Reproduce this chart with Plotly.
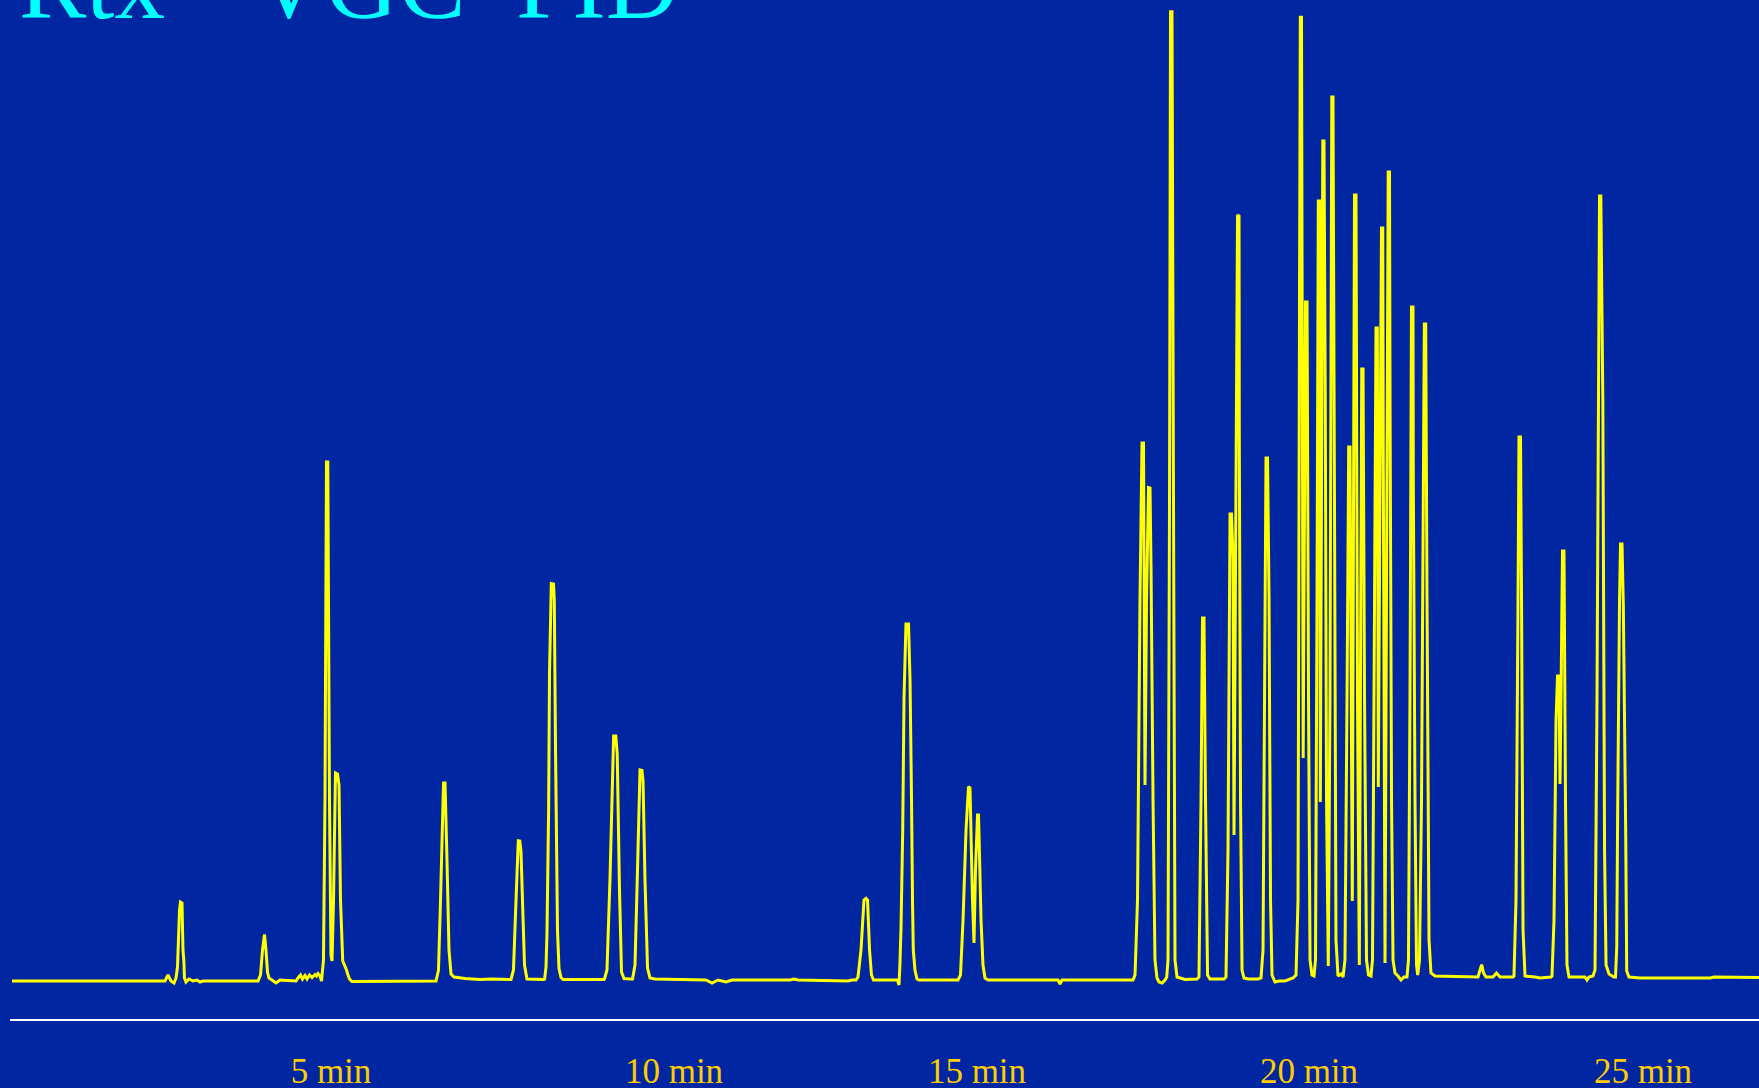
import plotly.graph_objects as go

# FID chromatogram on an Rtx-VGC column: polyline vertices (retention time, detector signal)
retention_time_min = [
    0.031, 2.377, 2.423, 2.469, 2.515, 2.546, 2.569, 2.600, 2.615, 2.638, 2.653, 2.666, 2.676, 2.699,
    2.745, 2.807, 2.868, 2.914, 2.960, 3.804, 3.842, 3.873, 3.903, 3.926, 3.949, 3.972, 4.018, 4.080,
    4.141, 4.264, 4.387, 4.417, 4.456, 4.486, 4.525, 4.555, 4.594, 4.632, 4.678, 4.701, 4.724, 4.755,
    4.778, 4.808, 4.831, 4.854, 4.874, 4.900, 4.923, 4.939, 4.962, 4.992, 5.023, 5.046, 5.069, 5.103,
    5.153, 5.184, 5.207, 5.245, 6.534, 6.572, 6.603, 6.649, 6.672, 6.702, 6.733, 6.764, 6.810, 6.979,
    7.209, 7.393, 7.669, 7.684, 7.722, 7.761, 7.796, 7.819, 7.837, 7.860, 7.891, 7.929, 8.190, 8.198,
    8.221, 8.236, 8.261, 8.275, 8.302, 8.336, 8.348, 8.367, 8.397, 8.420, 8.451, 8.482, 9.110, 9.118,
    9.156, 9.202, 9.258, 9.291, 9.313, 9.348, 9.379, 9.417, 9.509, 9.548, 9.586, 9.632, 9.663, 9.693,
    9.709, 9.739, 9.778, 9.816, 9.893, 10.675, 10.767, 10.859, 10.982, 11.074, 11.963, 12.025, 12.086,
    12.853, 12.914, 12.975, 13.006, 13.052, 13.098, 13.129, 13.152, 13.183, 13.213, 13.244, 13.604,
    13.612, 13.635, 13.650, 13.666, 13.692, 13.712, 13.742, 13.781, 13.804, 13.827, 13.842, 13.854,
    13.880, 13.911, 13.942, 14.540, 14.578, 14.617, 14.663, 14.701, 14.724, 14.762, 14.785, 14.808,
    14.839, 14.854, 14.866, 14.893, 14.923, 14.954, 15.000, 16.074, 16.104, 16.135, 17.224, 17.255,
    17.293, 17.331, 17.362, 17.385, 17.408, 17.431, 17.462, 17.485, 17.500, 17.531, 17.561, 17.592,
    17.623, 17.669, 17.715, 17.741, 17.761, 17.784, 17.799, 17.822, 17.845, 17.868, 17.899, 18.021,
    18.206, 18.236, 18.267, 18.290, 18.313, 18.336, 18.367, 18.405, 18.620, 18.650, 18.681, 18.712,
    18.735, 18.758, 18.773, 18.827, 18.850, 18.854, 18.873, 18.896, 18.926, 18.988, 19.141, 19.187,
    19.218, 19.241, 19.264, 19.287, 19.310, 19.333, 19.356, 19.402, 19.463, 19.555, 19.678, 19.724,
    19.755, 19.778, 19.790, 19.808, 19.821, 19.834, 19.870, 19.893, 19.916, 19.939, 19.969, 20.000,
    20.023, 20.046, 20.066, 20.084, 20.097, 20.135, 20.153, 20.172, 20.192, 20.219, 20.245, 20.273,
    20.291, 20.314, 20.337, 20.368, 20.414, 20.445, 20.475, 20.506, 20.532, 20.552, 20.587, 20.621,
    20.644, 20.667, 20.695, 20.732, 20.752, 20.775, 20.805, 20.836, 20.874, 20.897, 20.920, 20.951,
    20.971, 20.986, 21.035, 21.055, 21.063, 21.089, 21.138, 21.158, 21.166, 21.189, 21.212, 21.242,
    21.288, 21.334, 21.380, 21.426, 21.449, 21.472, 21.495, 21.518, 21.523, 21.549, 21.572, 21.590,
    21.618, 21.649, 21.692, 21.713, 21.733, 21.764, 21.794, 21.856, 22.515, 22.546, 22.572, 22.600,
    22.638, 22.745, 22.799, 22.853, 23.052, 23.067, 23.098, 23.129, 23.144, 23.167, 23.183, 23.206,
    23.236, 23.390, 23.466, 23.635, 23.650, 23.681, 23.712, 23.735, 23.758, 23.773, 23.788, 23.811,
    23.834, 23.857, 23.880, 23.911, 24.156, 24.187, 24.218, 24.279, 24.310, 24.340, 24.379, 24.399,
    24.430, 24.456, 24.479, 24.525, 24.601, 24.624, 24.643, 24.658, 24.686, 24.701, 24.724, 24.744,
    24.781, 24.796, 24.831, 25.000, 26.074, 26.135, 26.825,
]

fid_signal = [
    0.1, 0.1, 0.7, 0.1, -0.1, 0.4, 1.5, 7.2, 8.0, 7.9, 3.2, 2.2, 0.4, 0.0,
    0.3, 0.1, 0.2, 0.0, 0.1, 0.1, 0.7, 3.2, 4.75, 3.2, 1.0, 0.4, 0.2, -0.1,
    0.2, 0.15, 0.1, 0.4, 0.7, 0.3, 0.65, 0.3, 0.7, 0.45, 0.75, 0.6, 0.85, 0.6,
    0.1, 2.2, 18.2, 52.0, 52.0, 18.2, 2.7, 2.1, 8.2, 20.9, 20.8, 19.7, 8.2, 2.1,
    1.34, 0.7, 0.3, 0.05, 0.1, 1.2, 8.2, 19.9, 19.9, 12.2, 3.2, 0.8, 0.5, 0.35,
    0.25, 0.3, 0.25, 0.25, 1.2, 8.2, 14.13, 14.1, 13.1, 8.2, 1.7, 0.3, 0.25, 0.2,
    1.5, 4.9, 17.1, 31.0, 39.84, 39.8, 38.2, 23.2, 5.2, 1.34, 0.45, 0.25, 0.25, 0.3,
    1.2, 10.2, 24.6, 24.6, 22.8, 9.2, 1.0, 0.35, 0.3, 0.3, 1.7, 13.2, 21.2, 21.15,
    20.1, 10.2, 1.4, 0.4, 0.3, 0.2, -0.1, 0.2, 0.0, 0.2, 0.2, 0.3, 0.2,
    0.1, 0.2, 0.2, 0.5, 3.2, 8.2, 8.37, 8.2, 3.2, 0.7, 0.2, 0.2,
    0.2, -0.3, 1.9, 5.5, 15.2, 28.5, 35.8, 35.8, 30.2, 18.2, 8.2, 3.2,
    1.2, 0.3, 0.2, 0.2, 0.7, 6.2, 15.2, 19.53, 19.4, 8.2, 3.9, 11.2,
    16.7, 16.7, 13.7, 6.2, 1.7, 0.4, 0.2, 0.2, -0.2, 0.2, 0.2, 0.7,
    8.2, 38.2, 53.9, 53.9, 19.7, 38.2, 49.45, 49.4, 41.6, 18.2, 2.2, 0.4,
    0.0, -0.1, 0.2, 0.5, 2.2, 48.2, 97.03, 97.03, 48.2, 2.2, 0.5, 0.25,
    0.3, 0.5, 18.2, 36.4, 36.4, 18.2, 0.7, 0.3, 0.3, 0.5, 13.2, 46.8,
    46.8, 42.4, 14.7, 76.7, 76.6, 54.9, 18.2, 1.2, 0.4, 0.3, 0.3, 0.4,
    3.2, 28.2, 52.4, 52.4, 38.5, 8.2, 0.7, 0.0, 0.1, 0.1, 0.4, 0.7,
    8.2, 68.2, 96.47, 96.47, 59.9, 22.4, 68.0, 68.0, 28.2, 2.2, 0.7, 0.6,
    2.2, 38.2, 78.1, 78.1, 18.0, 84.1, 84.1, 59.7, 18.2, 1.6, 28.2, 88.5,
    88.5, 48.2, 4.2, 0.6, 0.8, 0.5, 2.2, 28.2, 53.5, 53.5, 8.1, 78.7,
    78.7, 28.2, 1.7, 61.3, 61.3, 28.2, 2.2, 0.7, 0.6, 2.2, 28.2, 65.4,
    65.4, 19.5, 75.4, 75.4, 51.1, 1.9, 81.0, 81.0, 58.5, 18.2, 2.2, 0.9,
    0.6, 0.2, 0.5, 0.5, 2.2, 28.2, 67.5, 67.5, 50.1, 18.2, 1.7, 0.7,
    2.2, 18.2, 65.8, 65.8, 38.2, 4.2, 0.9, 0.6, 0.5, 1.2, 1.74, 0.9,
    0.5, 0.5, 0.9, 0.5, 0.5, 0.6, 8.2, 38.2, 54.5, 54.5, 38.2, 5.2,
    0.6, 0.5, 0.4, 0.5, 0.6, 6.2, 26.2, 30.6, 30.6, 19.8, 28.2, 43.1,
    43.1, 18.2, 1.7, 0.5, 0.5, 0.2, 0.5, 0.6, 1.2, 28.2, 78.6, 78.6,
    58.0, 13.2, 1.7, 0.8, 0.5, 0.5, 3.5, 17.6, 38.2, 43.8, 43.8, 37.7,
    14.7, 1.1, 0.5, 0.4, 0.4, 0.5, 0.45,
]

tick_positions_min = [4.923, 10.184, 14.831, 19.923, 25.046]
tick_labels = ["5 min", "10 min", "15 min", "20 min", "25 min"]
title_text = "Rtx<sup>®</sup>-VGC\u2002FID"

BG = "#0026A1"
SERIF = "Liberation Serif, Times New Roman, serif"

fig = go.Figure(
    go.Scatter(
        x=retention_time_min,
        y=fid_signal,
        mode="lines",
        line=dict(color="#FFFF00", width=3, simplify=False),
        hoverinfo="skip",
    )
)

fig.add_annotation(
    text=title_text,
    xref="paper", yref="paper",
    x=0.0040, y=0.9592,
    xanchor="left", yanchor="bottom",
    showarrow=False,
    font=dict(family=SERIF, size=101, color="#00FFFF"),
)

fig.update_layout(
    width=1759,
    height=1088,
    margin=dict(l=10, r=0, t=0, b=69),
    paper_bgcolor=BG,
    plot_bgcolor=BG,
    showlegend=False,
    xaxis=dict(
        range=[0, 26.825],
        automargin=False,
        showgrid=False,
        zeroline=False,
        showline=True,
        linecolor="#FFFFFF",
        linewidth=2,
        ticks="",
        tickvals=tick_positions_min,
        ticktext=tick_labels,
        tickfont=dict(family=SERIF, size=35, color="#FFCC00"),
        ticklabelstandoff=20,
        fixedrange=True,
    ),
    yaxis=dict(
        range=[-3.7, 98.2],
        visible=False,
        automargin=False,
        showgrid=False,
        zeroline=False,
        fixedrange=True,
    ),
)

fig.write_html("out.html", config={"displayModeBar": False})
